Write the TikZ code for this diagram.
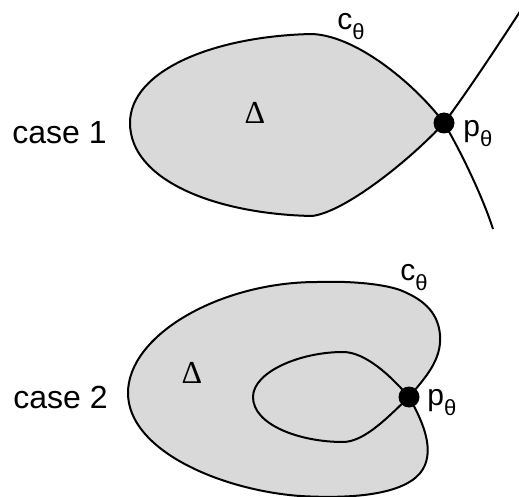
\documentclass[tikz,border=0pt]{standalone}
\usepackage{fontspec}
\setmainfont{Liberation Sans}
\newfontfamily\deltafont{Liberation Serif}
\newcommand{\thsub}{\raisebox{-5pt}{\fontsize{11}{12}\selectfont θ}}

\begin{document}
\begin{tikzpicture}[
		x=0.5pt, y=-0.5pt,
		curve/.style={draw=black, line width=1pt, line join=round},
		region/.style={fill=black!15},
		dot/.style={circle, fill=black, inner sep=0pt, minimum size=10.5pt},
		lbl/.style={inner sep=0pt, anchor=base west, font=\fontsize{15}{18}\selectfont},
		casetext/.style={inner sep=0pt, anchor=base west, font=\fontsize{16}{19}\selectfont},
		areatext/.style={inner sep=0pt, anchor=base, font=\deltafont\fontsize{16}{19}\selectfont}
	]
		\useasboundingbox (0,0) rectangle (519,497);

		% case 1
		\coordinate (p1) at (444,123);
		\coordinate (top1) at (312,34);
		\coordinate (left1) at (130,123);
		\coordinate (bot1) at (312,216);
		\coordinate (up1) at (521,10);
		\coordinate (down1) at (493,229);

		\path[region] (p1) .. controls (410,160) and (345,212) .. (bot1)
			.. controls (215,214) and (130,180) .. (left1)
			.. controls (130,70) and (215,36) .. (top1)
			.. controls (360,36) and (420,90) .. (p1) -- cycle;
		\draw[curve] (up1) .. controls (495,50) and (465,95) .. (p1)
			.. controls (410,160) and (345,212) .. (bot1)
			.. controls (215,214) and (130,180) .. (left1)
			.. controls (130,70) and (215,36) .. (top1)
			.. controls (360,36) and (420,90) .. (p1)
			.. controls (460,150) and (482,195) .. (down1);
		\node[dot] (dot1) at (p1) {};

		\node[casetext] (case1) at (12,144) {case 1};
		\node[areatext] (delta1) at (255,124) {Δ};
		\node[lbl] (c1) at (337,30) {c\thsub};
		\node[lbl] (plbl1) at (463,137) {p\thsub};

		% case 2
		\coordinate (p2) at (409,397);
		\coordinate (right2) at (440,335);
		\coordinate (corner2) at (400,290);
		\coordinate (top2) at (317,282);
		\coordinate (left2) at (128,393);
		\coordinate (bot2) at (300,496);
		\coordinate (low2) at (425,465);
		\coordinate (itop2) at (343,352);
		\coordinate (ileft2) at (253,397);
		\coordinate (ibot2) at (343,442);

		\path[region] (p2) .. controls (425,378) and (442,360) .. (right2)
			.. controls (438,310) and (420,298) .. (corner2)
			.. controls (380,283) and (345,281) .. (top2)
			.. controls (220,282) and (128,335) .. (left2)
			.. controls (128,450) and (220,490) .. (bot2)
			.. controls (370,500) and (415,490) .. (low2)
			.. controls (433,445) and (422,420) .. (p2) -- cycle;
		\draw[curve] (p2) .. controls (425,378) and (442,360) .. (right2)
			.. controls (438,310) and (420,298) .. (corner2)
			.. controls (380,283) and (345,281) .. (top2)
			.. controls (220,282) and (128,335) .. (left2)
			.. controls (128,450) and (220,490) .. (bot2)
			.. controls (370,500) and (415,490) .. (low2)
			.. controls (433,445) and (422,420) .. (p2)
			.. controls (390,375) and (365,352) .. (itop2)
			.. controls (300,352) and (253,372) .. (ileft2)
			.. controls (253,425) and (300,442) .. (ibot2)
			.. controls (365,442) and (390,415) .. (p2);
		\node[dot] (dot2) at (p2) {};

		\node[casetext] (case2) at (13,408) {case 2};
		\node[areatext] (delta2) at (192,383) {Δ};
		\node[lbl] (c2) at (400,280) {c\thsub};
		\node[lbl] (plbl2) at (427,405) {p\thsub};
	\end{tikzpicture}
\end{document}
